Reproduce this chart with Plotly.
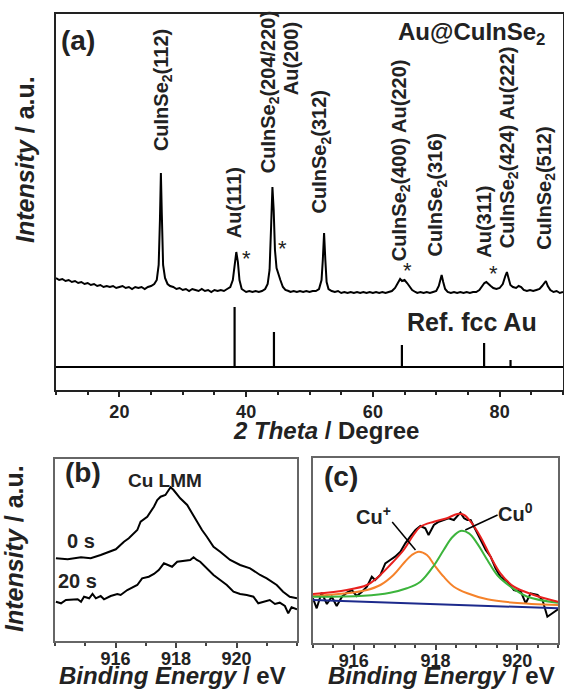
import plotly.graph_objects as go

W, H = 564, 689
FONT = "Liberation Sans, Arial, sans-serif"

# ---------------- Panel (a): XRD ----------------
two_theta = [10.0, 10.5, 11.0, 11.5, 12.0, 12.5, 13.0, 13.5, 14.0, 14.5, 15.0, 15.5, 16.0, 16.5, 17.0, 17.5,
             18.0, 18.5, 19.0, 19.5, 20.0, 20.5, 21.0, 21.5, 22.0, 22.5, 23.0, 23.5, 24.0, 24.5, 25.0, 25.5,
             25.9, 26.2, 26.4, 26.55, 26.7, 26.9, 27.2, 27.6, 28.0, 28.5, 29.0, 29.5, 30.0, 30.5, 31.0, 31.5,
             32.0, 32.5, 33.0, 33.5, 34.0, 34.5, 35.0, 35.5, 36.0, 36.5, 37.0, 37.5, 37.9, 38.2, 38.45, 38.7,
             38.95, 39.3, 39.7, 40.0, 40.5, 41.0, 41.5, 42.0, 42.5, 43.0, 43.4, 43.7, 43.95, 44.15, 44.35, 44.55,
             44.8, 45.1, 45.4, 45.8, 46.2, 46.7, 47.0, 47.5, 48.0, 48.5, 49.0, 49.5, 50.0, 50.5, 51.0, 51.5,
             51.9, 52.1, 52.3, 52.5, 52.7, 53.0, 53.5, 54.0, 54.5, 55.0, 55.5, 56.0, 56.5, 57.0, 57.5, 58.0,
             58.5, 59.0, 59.5, 60.0, 60.5, 61.0, 61.5, 62.0, 62.5, 63.0, 63.5, 64.0, 64.3, 64.6, 65.0, 65.4,
             65.8, 66.2, 66.7, 67.0, 67.5, 68.0, 68.5, 69.0, 69.5, 70.0, 70.4, 70.7, 70.85, 71.1, 71.4, 71.8,
             72.3, 72.8, 73.3, 73.8, 74.3, 74.8, 75.3, 75.8, 76.3, 76.8, 77.2, 77.6, 77.9, 78.2, 78.6, 79.0,
             79.5, 80.0, 80.5, 80.9, 81.15, 81.4, 81.7, 82.1, 82.6, 83.0, 83.4, 83.8, 84.3, 84.8, 85.3, 85.8,
             86.3, 86.7, 87.0, 87.3, 87.6, 88.0, 88.5, 89.0, 89.5, 90.0]
xrd_intensity = [112, 110, 111, 109, 110, 108, 109, 107, 108, 106, 107, 105, 106, 104, 105, 103,
                 104, 103, 104, 102, 103, 104, 102, 103, 101, 103, 102, 103, 101, 103, 104, 106,
                 110, 125, 170, 217, 175, 125, 112, 106, 104, 103, 101, 102, 100, 101, 99, 101,
                 100, 99, 101, 99, 100, 98, 100, 99, 100, 99, 101, 103, 110, 125, 138, 128,
                 110, 101, 99, 98, 99, 98, 99, 98, 99, 101, 106, 120, 165, 203, 180, 140,
                 122, 115, 110, 103, 100, 99, 98, 99, 98, 99, 98, 99, 98, 99, 99, 101,
                 110, 130, 157, 130, 108, 101, 99, 98, 99, 97, 98, 97, 98, 97, 98, 97,
                 98, 97, 98, 97, 98, 97, 98, 97, 98, 99, 102, 107, 111, 109, 110, 107,
                 103, 100, 98, 97, 98, 97, 98, 97, 98, 99, 104, 112, 115, 108, 101, 98,
                 97, 98, 97, 98, 97, 98, 97, 98, 98, 100, 104, 107, 108, 106, 104, 102,
                 101, 102, 106, 114, 118, 112, 105, 103, 102, 104, 103, 100, 99, 100, 99, 100,
                 101, 104, 107, 109, 104, 100, 98, 99, 97, 98]

ref_au_pos = [38.18, 44.39, 64.58, 77.55, 81.72]
ref_au_height = [60, 35, 22, 24, 7]
ref_base = 23

peak_labels = ["CuInSe<sub>2</sub>(112)", "Au(111)", "CuInSe<sub>2</sub>(204/220)", "Au(200)",
               "CuInSe<sub>2</sub>(312)", "CuInSe<sub>2</sub>(400) Au(220)", "CuInSe<sub>2</sub>(316)",
               "Au(311)", "CuInSe<sub>2</sub>(424) Au(222)", "CuInSe<sub>2</sub>(512)"]
peak_label_x = [26.9, 38.2, 43.8, 47.2, 51.8, 64.3, 70.1, 77.5, 81.5, 87.2]
peak_label_y = [237, 150, 215, 293, 175, 127, 132, 130, 140, 138]
star_x = [40.1, 45.7, 65.4, 79.1]
star_y = [132, 141, 120, 117]

# ---------------- Panel (b): Cu LMM ----------------
lmm0_E = [914.03, 914.42, 914.86, 915.18, 915.51, 915.84, 916.01, 916.28, 916.44, 916.72, 916.83, 917.05,
          917.27, 917.38, 917.49, 917.65, 917.76, 917.82, 917.92, 918.14, 918.37, 918.53, 918.69, 918.86,
          919.02, 919.24, 919.46, 919.79, 920.12, 920.45, 920.78, 921.0, 921.33, 921.54, 921.76, 922.0]
lmm0_I = [82.7, 81.7, 83.7, 82.7, 86, 89.3, 91.7, 99.3, 102.7, 111, 119.3, 124.3,
          134.3, 141, 144.3, 146, 151.7, 153.7, 151, 142.7, 136, 127.7, 119.3, 111,
          104.3, 94.3, 89.3, 81, 76, 72.7, 66, 62.7, 56, 49.3, 44.3, 42.7]
lmm20_E = [914.03, 914.2, 914.36, 914.75, 914.86, 914.96, 915.13, 915.24, 915.35, 915.51, 915.62, 915.84,
           916.06, 916.17, 916.39, 916.56, 916.72, 916.88, 917.1, 917.27, 917.43, 917.6, 917.71, 917.87,
           918.04, 918.25, 918.47, 918.58, 918.69, 918.8, 919.02, 919.24, 919.46, 919.68, 919.9, 920.12,
           920.34, 920.56, 920.72, 920.88, 921.1, 921.27, 921.43, 921.6, 921.71, 921.82, 922.0]
lmm20_I = [39.3, 37.7, 41, 41.7, 39.3, 44.3, 42.7, 47, 42.7, 45, 41.7, 45,
           47, 46, 51, 53.7, 56, 62.7, 64.3, 67, 71, 77.7, 76, 74.3,
           79.3, 80.3, 81, 83.7, 81, 79.3, 72.7, 66, 61, 56, 49.3, 47,
           46, 44.3, 37.7, 39.3, 41, 37, 38.3, 35, 27.7, 33.7, 31.7]

# ---------------- Panel (c): Cu LMM fit ----------------
data_E = [915.0, 915.09, 915.21, 915.34, 915.46, 915.58, 915.71, 915.83, 915.95, 916.07, 916.2, 916.32,
          916.44, 916.52, 916.65, 916.77, 916.89, 917.01, 917.14, 917.26, 917.38, 917.51, 917.63, 917.75,
          917.83, 917.96, 918.08, 918.2, 918.32, 918.45, 918.53, 918.61, 918.7, 918.78, 918.86, 918.98,
          919.1, 919.23, 919.35, 919.47, 919.59, 919.76, 919.92, 920.09, 920.21, 920.33, 920.5, 920.62,
          920.74, 920.86, 921.0]
data_I = [44.7, 34.7, 50.3, 39, 46.3, 37, 46.3, 50.3, 53, 47, 51.3, 56.3,
          66.3, 63, 68, 79.7, 83, 86.3, 91.3, 99.7, 106.3, 113, 117, 114.7,
          108, 118, 121.3, 123, 124.7, 123, 126.3, 130.3, 124.7, 123, 123, 113,
          104.7, 93, 86.3, 74.7, 66.3, 61.3, 53, 51.3, 39.7, 49.7, 48, 43,
          26.3, 29.7, 33.7]
fit_E = [915.0, 915.83, 916.32, 916.56, 916.89, 917.22, 917.46, 917.63, 917.96, 918.28, 918.53, 918.7,
         918.86, 919.1, 919.35, 919.59, 919.92, 920.41, 921.0]
fit_I = [49, 53, 58, 64.7, 78, 93, 108, 116.3, 121.3, 124.7, 129, 128,
         121.3, 106.3, 86.3, 69.7, 56.3, 48, 41.3]
cu1_E = [915.0, 915.83, 916.32, 916.65, 916.97, 917.22, 917.42, 917.59, 917.79, 917.97, 918.2, 918.45,
         918.78, 919.27, 919.92, 921.0]
cu1_I = [47, 49.7, 53, 58, 68, 79.7, 88, 91.3, 88, 78, 66.3, 56.3,
         49.7, 43.7, 40.3, 38]
cu0_E = [915.0, 916.24, 916.89, 917.3, 917.63, 917.97, 918.2, 918.41, 918.61, 918.82, 919.02, 919.27,
         919.51, 919.84, 920.25, 921.0]
cu0_I = [46.3, 47.3, 50.3, 54.7, 61.3, 78, 93, 105.7, 112, 109.7, 99.7, 83,
         68, 56.3, 46.3, 40.3]
bg_E = [915.0, 921.0]
bg_I = [43, 34.7]


def px(x):
    return x / W


def py(y):
    return 1 - y / H


fig = go.Figure()

# panel a traces
fig.add_trace(go.Scatter(x=two_theta, y=xrd_intensity, mode="lines",
                         line=dict(color="black", width=2), xaxis="x", yaxis="y", showlegend=False))
sx, sy = [], []
for p, h in zip(ref_au_pos, ref_au_height):
    sx += [p, p, None]
    sy += [ref_base, ref_base + h, None]
fig.add_trace(go.Scatter(x=sx, y=sy, mode="lines", line=dict(color="black", width=2.2),
                         xaxis="x", yaxis="y", showlegend=False))
fig.add_trace(go.Scatter(x=[10, 90], y=[ref_base, ref_base], mode="lines",
                         line=dict(color="black", width=1.8), xaxis="x", yaxis="y", showlegend=False))

# panel b traces
fig.add_trace(go.Scatter(x=lmm0_E, y=lmm0_I, mode="lines", line=dict(color="black", width=2),
                         xaxis="x2", yaxis="y2", showlegend=False))
fig.add_trace(go.Scatter(x=lmm20_E, y=lmm20_I, mode="lines", line=dict(color="black", width=2),
                         xaxis="x2", yaxis="y2", showlegend=False))

# panel c traces
fig.add_trace(go.Scatter(x=data_E, y=data_I, mode="lines", line=dict(color="black", width=2),
                         xaxis="x3", yaxis="y3", showlegend=False))
fig.add_trace(go.Scatter(x=bg_E, y=bg_I, mode="lines", line=dict(color="#1c2a8c", width=2),
                         xaxis="x3", yaxis="y3", showlegend=False))
fig.add_trace(go.Scatter(x=cu1_E, y=cu1_I, mode="lines", line=dict(color="#f5822a", width=2, shape="spline"),
                         xaxis="x3", yaxis="y3", showlegend=False))
fig.add_trace(go.Scatter(x=cu0_E, y=cu0_I, mode="lines", line=dict(color="#3cb43c", width=2, shape="spline"),
                         xaxis="x3", yaxis="y3", showlegend=False))
fig.add_trace(go.Scatter(x=fit_E, y=fit_I, mode="lines", line=dict(color="#e8201e", width=2, shape="spline"),
                         xaxis="x3", yaxis="y3", showlegend=False))

tickfont = dict(family=FONT, size=18, color="#222", weight="bold")
frame_a = dict(showline=True, linecolor="#222", linewidth=1.5, mirror=True, showgrid=False, zeroline=False,
               automargin=False)
frame_bc = dict(showline=True, linecolor="#666", linewidth=1.5, mirror=True, showgrid=False, zeroline=False,
                automargin=False)

fig.update_layout(
    template="none",
    width=W, height=H, margin=dict(l=0, r=0, t=0, b=0, pad=0, autoexpand=False),
    paper_bgcolor="white", plot_bgcolor="white",
    font=dict(family=FONT, color="#222"),
    xaxis=dict(domain=[px(56), px(563)], anchor="y", range=[10, 90], tickvals=[20, 40, 60, 80],
               ticks="outside", ticklen=5, tickwidth=1.5, tickcolor="#222", tickfont=tickfont,
               minor=dict(tick0=0, dtick=5, ticks="outside", ticklen=3, tickwidth=1.5, tickcolor="#222"),
               **frame_a),
    yaxis=dict(domain=[py(390), py(14)], anchor="x", range=[0, 376], showticklabels=False, ticks="",
               **frame_a),
    xaxis2=dict(domain=[px(55), px(297)], anchor="y2", range=[914, 922], tickvals=[916, 918, 920],
                ticks="outside", ticklen=5, tickwidth=1.5, tickcolor="#444", tickfont=tickfont,
                ticklabelstandoff=-4,
                minor=dict(tick0=0, dtick=1, ticks="outside", ticklen=3, tickwidth=1.5, tickcolor="#444"),
                **frame_bc),
    yaxis2=dict(domain=[py(641), py(459)], anchor="x2", range=[0, 182], showticklabels=False, ticks="",
                **frame_bc),
    xaxis3=dict(domain=[px(313), px(558)], anchor="y3", range=[915, 921], tickvals=[916, 918, 920],
                ticks="outside", ticklen=5, tickwidth=1.5, tickcolor="#444", tickfont=tickfont,
                ticklabelstandoff=-4,
                minor=dict(tick0=0, dtick=0.5, ticks="outside", ticklen=3, tickwidth=1.5, tickcolor="#444"),
                **frame_bc),
    yaxis3=dict(domain=[py(643), py(458)], anchor="x3", range=[0, 185], showticklabels=False, ticks="",
                **frame_bc),
)

ann = []


def label(text, x, y, xref, yref, size, **kw):
    d = dict(text=text, x=x, y=y, xref=xref, yref=yref, showarrow=False,
             xanchor="center", yanchor="middle",
             font=dict(family=FONT, size=size, color="#222"))
    d.update(kw)
    ann.append(d)


# peak labels (rotated)
for t, x, y in zip(peak_labels, peak_label_x, peak_label_y):
    label("<b>" + t + "</b>", x, y, "x", "y", 20, textangle=-90, yanchor="bottom")
for x, y in zip(star_x, star_y):
    label("*", x, y, "x", "y", 22)

label("<b>(a)</b>", 13.5, 349, "x", "y", 28)
label("<b>Au@CuInSe<sub>2</sub></b>", 75.5, 356, "x", "y", 24)
label("<b>Ref. fcc Au</b>", 75.6, 68, "x", "y", 25)

label("<b>(b)</b>", 914.92, 169, "x2", "y2", 28)
label("<b>Cu LMM</b>", 917.65, 161, "x2", "y2", 19)
label("<b>0 s</b>", 914.86, 100, "x2", "y2", 20)
label("<b>20 s</b>", 914.76, 60, "x2", "y2", 20)

label("<b>(c)</b>", 915.69, 167, "x3", "y3", 28)
label("<b>Cu<sup>+</sup></b>", 916.47, 128, "x3", "y3", 20)
label("<b>Cu<sup>0</sup></b>", 919.96, 131, "x3", "y3", 20)

# axis titles
label("<b><i>2 Theta</i> / Degree</b>", px(326), py(430), "paper", "paper", 24)
label("<b><i>Intensity</i> / a.u.</b>", px(25), py(160), "paper", "paper", 25, textangle=-90)
label("<b><i>Intensity</i> / a.u.</b>", px(14), py(549), "paper", "paper", 25, textangle=-90)
label("<b><i>Binding Energy</i> / eV</b>", px(172), py(675), "paper", "paper", 24)
label("<b><i>Binding Energy</i> / eV</b>", px(441), py(675), "paper", "paper", 24)

fig.update_layout(annotations=ann)

fig.add_shape(type="line", xref="x3", yref="y3", x0=916.94, y0=121, x1=917.51, y1=93,
              line=dict(color="black", width=1.5))
fig.add_shape(type="line", xref="x3", yref="y3", x0=919.52, y0=128, x1=918.73, y1=113,
              line=dict(color="black", width=1.5))

fig.write_html("out.html", config={"displayModeBar": False},
               post_script="document.body.style.margin='0';document.body.style.overflow='hidden';")
